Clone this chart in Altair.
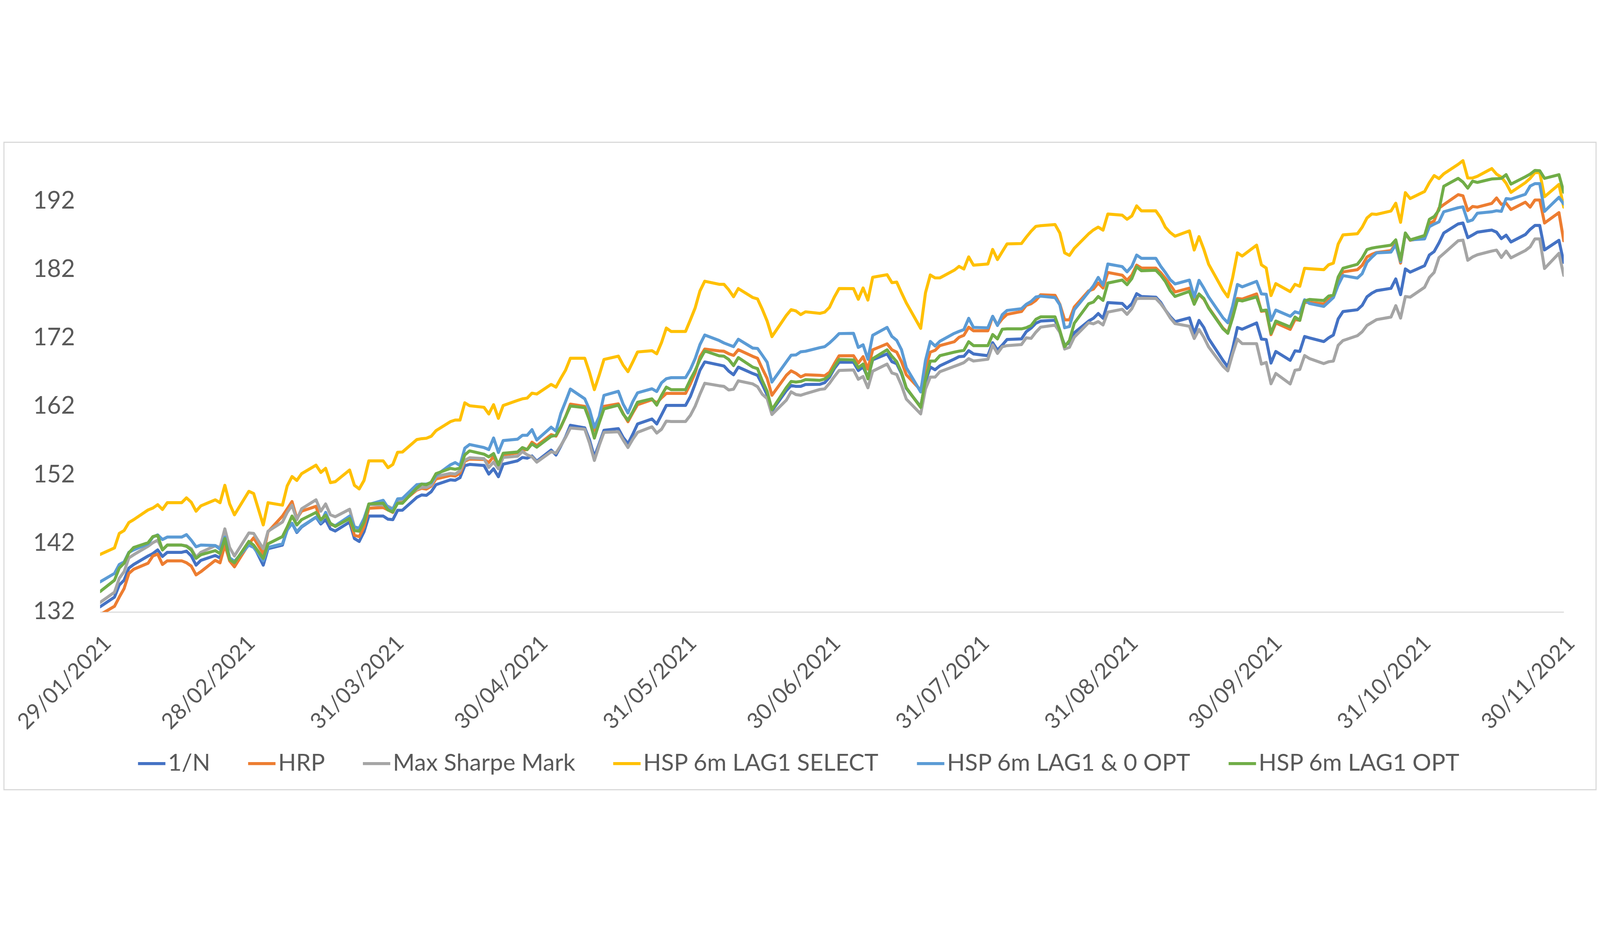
import altair as alt
import pandas as pd

# Business days shown on the chart (month -> days)
MONTH_DAYS = {
    1: [29],
    2: [1, 2, 3, 4, 5, 8, 9, 10, 11, 12, 15, 16, 17, 18, 19, 22, 23, 24, 25, 26],
    3: [1, 2, 4, 5, 8, 9, 10, 11, 12, 15, 16, 17, 18, 19, 22, 23, 24, 25, 26, 29, 30, 31],
    4: [1, 2, 5, 6, 7, 8, 9, 12, 13, 14, 15, 16, 19, 20, 21, 22, 23, 26, 27, 28, 29, 30],
    5: [3, 4, 5, 6, 7, 10, 11, 12, 13, 14, 17, 18, 19, 20, 21, 24, 25, 26, 27, 28, 31],
    6: [1, 2, 3, 4, 7, 8, 9, 10, 11, 14, 15, 16, 17, 18, 21, 22, 23, 24, 25, 28, 29, 30],
    7: [1, 2, 5, 6, 7, 8, 9, 12, 13, 14, 15, 16, 19, 20, 21, 22, 23, 26, 27, 28, 29, 30],
    8: [2, 3, 4, 5, 6, 9, 10, 11, 12, 13, 16, 17, 18, 19, 20, 23, 24, 25, 26, 27, 30, 31],
    9: [1, 2, 3, 6, 7, 8, 9, 10, 13, 14, 15, 16, 17, 20, 21, 22, 23, 24, 27, 28, 29, 30],
    10: [1, 4, 5, 6, 7, 8, 11, 12, 13, 14, 15, 18, 19, 20, 21, 22, 25, 26, 27, 28, 29],
    11: [1, 2, 3, 4, 5, 8, 9, 10, 11, 12, 15, 16, 17, 18, 19, 22, 23, 24, 25, 26, 29, 30],
}
DATES = [f"2021-{m:02d}-{d:02d}T00:00:00" for m, days in MONTH_DAYS.items() for d in days]

SERIES = ["1/N", "HRP", "Max Sharpe Mark", "HSP 6m LAG1 SELECT",
          "HSP 6m LAG1 & 0 OPT", "HSP 6m LAG1 OPT"]
COLORS = ["#4472C4", "#ED7D31", "#A5A5A5", "#FFC000", "#5B9BD5", "#70AD47"]

ONE_OVER_N = [
    132.76,
    134.17, 135.94, 136.64, 138.41, 138.94, 140.18, 140.53, 141.06, 140.11, 140.71, 140.71, 140.89, 140.18, 138.84, 139.54, 140.25, 139.9, 142.12, 139.83, 138.77,
    142.12, 141.67, 138.84, 141.24, 141.77, 144.07, 144.95, 143.61, 144.42, 145.84, 144.85, 145.48, 144.14, 143.82, 145.13, 142.73, 142.3, 143.72, 146.01, 146.01, 145.55, 145.48,
    146.85, 146.87, 148.74, 149.09, 149.03, 149.56, 150.59, 151.3, 151.23, 151.61, 153.36, 153.55, 153.4, 152.14, 152.91, 151.75, 153.59, 154.08, 154.56, 154.46, 154.79, 154.02,
    155.65, 154.92, 156.21, 157.58, 159.27, 158.9, 157.12, 154.65, 156.57, 158.54, 158.78, 157.49, 156.57, 157.95, 159.46, 160.19, 159.46, 160.8, 162.17, 162.17, 162.17,
    163.46, 165.3, 167.3, 168.52, 168.08, 167.93, 167.18, 166.65, 167.76, 166.83, 166.56, 165.22, 163.7, 161.38, 164.33, 165.08, 164.95, 164.95, 165.22, 165.25, 165.49, 166.29,
    167.54, 168.47, 168.47, 167.26, 167.78, 166.22, 168.82, 169.69, 168.56, 168.25, 166.83, 164.66, 161.97, 165.61, 167.78, 167.38, 167.95, 168.94, 169.29, 169.34, 170.16, 169.69,
    169.43, 171.33, 170.25, 170.98, 171.8, 171.88, 172.94, 173.46, 174.17, 174.49, 174.61, 172.86, 170.98, 171.31, 172.78, 174.49, 174.9, 175.59, 174.9, 177.19, 177.06, 176.34,
    177.02, 178.49, 178.08, 177.98, 177.23, 176.09, 175.15, 174.4, 174.96, 172.7, 174.58, 173.55, 171.94, 168.73, 167.79, 170.43, 173.55, 173.3, 174.21, 171.85, 171.79, 168.35,
    170.05, 168.75, 170.14, 170.05, 172.24, 172.03, 171.49, 172.03, 172.45, 174.81, 175.88, 176.14, 176.78, 178.03, 178.56, 178.93, 179.27, 180.64, 178.35, 182.1, 181.63,
    182.57, 184.13, 184.64, 185.9, 187.35, 188.67, 188.81, 186.67, 187.06, 187.47, 187.78, 187.47, 186.53, 187.03, 186.04, 187.12, 187.88, 188.45, 188.45, 184.88, 186.28, 183.06,
]

HRP = [
    131.6,
    132.83, 134.17, 135.41, 137.63, 138.24, 139.12, 140.18, 140.46, 138.94, 139.47, 139.47, 139.19, 138.7, 137.42, 137.88, 139.54, 139.19, 141.77, 139.47, 138.59,
    141.95, 142.83, 140.53, 143.72, 146.01, 147.07, 148.13, 145.66, 146.72, 147.43, 145.13, 146.37, 144.78, 144.6, 145.66, 143.19, 143.01, 144.42, 147.15, 147.25, 146.9, 146.54,
    148.1, 148.1, 149.81, 150.06, 149.95, 150.39, 151.42, 151.94, 151.85, 152.27, 154.02, 154.33, 154.27, 153.82, 154.71, 153.11, 154.95, 155.24, 155.63, 155.72, 156.79, 156.3,
    157.9, 157.68, 158.96, 160.52, 162.36, 162.03, 160.25, 158.5, 159.97, 162.03, 162.4, 160.98, 159.79, 161.07, 162.27, 163.0, 162.54, 163.28, 163.92, 163.92, 163.92,
    165.3, 166.9, 169.28, 170.4, 170.13, 170.08, 169.72, 169.47, 170.31, 169.33, 169.06, 167.54, 166.11, 163.65, 166.56, 167.22, 166.86, 166.33, 166.65, 166.56, 166.5, 167.0,
    168.25, 169.42, 169.43, 168.35, 169.29, 167.48, 170.29, 171.16, 170.29, 169.95, 168.56, 166.65, 164.4, 167.69, 169.95, 170.21, 170.9, 171.47, 172.12, 172.41, 173.59, 173.07,
    173.07, 175.15, 173.92, 174.82, 175.47, 175.88, 176.78, 177.02, 177.51, 178.33, 178.25, 176.94, 174.66, 174.66, 176.53, 178.9, 179.15, 180.04, 179.31, 181.59, 181.19, 180.45,
    181.19, 182.66, 182.24, 182.23, 181.57, 180.72, 179.78, 178.74, 179.3, 177.61, 178.36, 177.7, 176.47, 173.45, 172.79, 175.15, 177.79, 177.7, 178.45, 175.91, 176.0, 172.51,
    174.21, 173.27, 174.7, 174.6, 177.28, 177.21, 177.0, 177.6, 178.03, 180.38, 181.67, 181.99, 182.63, 183.85, 184.24, 184.5, 184.78, 185.78, 182.95, 187.24, 186.28,
    186.7, 188.74, 189.12, 190.98, 191.49, 192.95, 192.78, 190.63, 191.22, 191.13, 191.67, 192.47, 191.53, 191.7, 190.78, 191.85, 191.13, 192.17, 192.17, 188.81, 190.33, 186.22,
]

MAX_SHARPE = [
    133.39,
    134.88, 136.92, 137.88, 139.9, 140.36, 141.6, 142.12, 142.48, 141.06, 141.77, 141.77, 141.67, 141.24, 140.0, 140.71, 141.67, 141.42, 144.14, 141.42, 140.18,
    143.54, 143.47, 141.24, 143.79, 145.13, 146.54, 147.6, 145.48, 147.07, 148.38, 146.72, 147.78, 146.19, 145.91, 147.0, 144.42, 144.14, 145.48, 147.71, 147.6, 147.43, 147.07,
    148.3, 148.4, 149.91, 150.2, 150.2, 150.53, 151.81, 152.23, 152.14, 152.62, 154.17, 154.52, 154.4, 153.11, 153.88, 152.91, 154.56, 154.75, 155.43, 154.95, 154.66, 153.88,
    155.4, 155.2, 156.3, 157.49, 158.87, 158.69, 156.66, 154.13, 156.3, 158.23, 158.32, 157.12, 156.02, 157.22, 158.23, 159.05, 158.13, 158.69, 159.88, 159.82, 159.82,
    160.71, 162.05, 163.81, 165.4, 165.04, 164.95, 164.42, 164.54, 165.76, 165.31, 164.9, 163.79, 163.17, 160.84, 162.93, 164.15, 163.75, 163.65, 163.88, 164.5, 164.59, 165.4,
    166.38, 167.27, 167.35, 165.99, 166.39, 164.74, 167.17, 168.21, 166.91, 166.69, 165.09, 163.1, 160.93, 164.57, 166.3, 166.3, 167.09, 167.87, 168.13, 168.42, 169.0, 168.65,
    168.91, 170.99, 169.76, 170.74, 170.9, 171.06, 172.04, 171.96, 172.86, 173.6, 173.89, 172.86, 170.41, 170.66, 172.13, 174.25, 174.08, 174.41, 173.92, 175.8, 176.21, 175.47,
    176.29, 177.76, 177.82, 177.79, 177.04, 176.09, 174.96, 174.11, 173.73, 171.94, 173.26, 172.13, 170.71, 167.88, 167.22, 169.68, 171.85, 171.19, 171.19, 168.2, 168.45, 165.33,
    166.84, 165.3, 167.31, 167.42, 169.45, 169.02, 168.28, 168.55, 168.64, 170.95, 171.64, 172.35, 172.93, 173.85, 174.28, 174.7, 175.07, 176.74, 174.92, 178.07, 177.98,
    179.42, 180.85, 181.6, 183.74, 184.35, 186.22, 186.31, 183.37, 183.85, 184.17, 184.71, 184.85, 183.78, 184.71, 183.72, 184.79, 185.33, 186.49, 186.49, 182.17, 184.38, 181.17,
]

LAG1_SELECT = [
    140.4,
    141.35, 143.47, 143.89, 145.06, 145.48, 146.9, 147.18, 147.67, 146.97, 147.96, 147.96, 148.67, 148.03, 146.72, 147.5, 148.38, 147.96, 150.5, 147.78, 146.19,
    149.62, 149.3, 144.71, 147.96, 147.6, 150.43, 151.78, 151.21, 152.2, 153.44, 152.38, 152.98, 150.89, 151.03, 152.73, 150.5, 149.97, 151.21, 154.07, 154.07, 153.08, 153.54,
    155.33, 155.36, 157.18, 157.31, 157.37, 157.66, 158.48, 159.8, 160.03, 160.03, 162.55, 162.12, 161.89, 160.92, 162.28, 160.28, 162.16, 162.9, 163.13, 163.23, 163.96, 163.83,
    165.24, 164.84, 166.12, 167.32, 169.06, 169.06, 166.95, 164.47, 166.58, 168.88, 169.37, 168.05, 167.1, 168.51, 169.98, 170.16, 169.71, 171.36, 173.47, 172.97, 172.97,
    174.66, 176.4, 178.88, 180.31, 179.86, 179.86, 179.06, 178.04, 179.24, 177.93, 177.72, 176.2, 174.5, 172.22, 175.31, 176.15, 175.97, 175.43, 175.84, 175.61, 175.79, 176.5,
    177.99, 179.24, 179.23, 177.67, 179.32, 177.55, 180.88, 181.26, 180.1, 180.18, 178.62, 177.15, 173.42, 178.62, 181.22, 180.79, 180.79, 181.92, 182.47, 182.09, 183.86, 182.65,
    182.82, 184.95, 183.47, 184.62, 185.76, 185.81, 186.74, 187.6, 188.32, 188.42, 188.58, 187.34, 184.45, 184.08, 185.11, 187.23, 187.8, 188.21, 187.77, 190.12, 189.95, 189.35,
    189.84, 191.31, 190.58, 190.59, 189.59, 188.18, 187.42, 186.89, 187.65, 184.87, 186.82, 184.97, 182.8, 179.02, 178.02, 180.81, 184.44, 183.99, 185.57, 182.7, 182.23, 178.21,
    179.96, 178.79, 179.85, 179.57, 182.2, 182.14, 181.99, 182.7, 182.95, 185.74, 187.07, 187.24, 188.2, 189.55, 190.13, 190.07, 190.56, 191.7, 188.91, 193.24, 192.38,
    193.41, 194.7, 195.74, 195.29, 195.99, 197.38, 197.92, 195.38, 195.38, 195.63, 196.76, 195.95, 195.51, 194.61, 193.28, 194.7, 195.33, 196.17, 196.17, 192.65, 194.44, 191.13,
]

LAG1_0_OPT = [
    136.4,
    137.63, 138.94, 139.3, 140.71, 141.06, 141.95, 142.94, 143.26, 142.58, 142.94, 142.94, 143.29, 142.48, 141.52, 141.77, 141.7, 141.17, 142.94, 139.9, 139.4,
    141.77, 141.42, 139.47, 141.42, 141.95, 143.96, 144.95, 143.72, 144.49, 145.84, 145.06, 146.54, 144.85, 144.6, 146.01, 144.42, 144.25, 145.66, 147.71, 148.31, 147.25, 146.97,
    148.52, 148.58, 150.59, 150.68, 150.68, 150.88, 151.94, 153.49, 153.82, 153.4, 155.92, 156.46, 156.01, 155.72, 157.41, 155.3, 157.04, 157.24, 157.8, 157.8, 158.63, 157.12,
    158.99, 158.41, 160.98, 162.73, 164.56, 163.13, 161.53, 158.96, 160.52, 163.64, 164.23, 162.36, 161.07, 162.73, 164.01, 164.6, 164.2, 165.48, 166.07, 166.22, 166.22,
    167.41, 169.0, 171.05, 172.45, 171.65, 171.29, 171.02, 170.75, 171.83, 170.54, 170.49, 169.5, 168.47, 165.58, 168.52, 169.5, 169.54, 170.0, 170.08, 170.61, 170.75, 171.29,
    171.95, 172.66, 172.69, 170.64, 171.02, 168.91, 172.41, 173.56, 172.24, 171.68, 170.3, 167.69, 164.14, 168.73, 171.51, 170.85, 171.54, 172.69, 172.98, 173.24, 174.89, 173.56,
    173.5, 175.19, 173.84, 175.42, 176.04, 176.29, 176.94, 177.35, 178.0, 178.13, 177.92, 176.86, 173.51, 173.68, 176.13, 178.74, 179.64, 180.86, 179.72, 182.82, 182.44, 181.68,
    182.49, 184.13, 183.65, 183.65, 182.51, 181.57, 180.53, 179.91, 180.47, 177.98, 180.44, 179.3, 178.02, 174.96, 174.24, 176.66, 179.83, 179.49, 180.29, 178.45, 178.4, 174.58,
    176.09, 175.18, 175.84, 175.63, 177.6, 177.06, 176.63, 177.27, 177.92, 179.74, 181.13, 180.77, 181.41, 183.06, 183.81, 184.45, 184.56, 185.63, 183.17, 187.24, 186.34,
    186.49, 188.27, 188.65, 188.97, 190.45, 191.04, 191.17, 189.03, 189.26, 190.24, 190.45, 190.6, 190.51, 192.38, 192.29, 193.01, 194.2, 194.56, 194.56, 190.51, 192.56, 191.58,
]

LAG1_OPT = [
    134.98,
    136.64, 138.41, 139.12, 140.64, 141.42, 142.12, 143.01, 143.19, 141.06, 141.77, 141.77, 141.6, 141.06, 139.83, 140.36, 140.96, 140.53, 142.73, 139.65, 139.19,
    142.3, 141.77, 139.83, 141.95, 143.01, 144.42, 146.01, 144.71, 145.48, 146.54, 145.48, 146.12, 144.95, 144.49, 145.66, 143.89, 143.79, 145.13, 147.78, 147.89, 146.9, 146.61,
    147.88, 147.88, 150.1, 150.68, 150.59, 150.97, 152.2, 152.97, 152.85, 153.01, 154.95, 155.53, 155.05, 154.66, 155.14, 153.49, 155.18, 155.37, 156.01, 155.72, 156.54, 156.07,
    157.66, 157.8, 159.05, 160.52, 162.08, 161.84, 159.97, 157.4, 159.6, 161.66, 162.21, 160.89, 160.01, 161.26, 162.63, 163.13, 162.21, 163.64, 164.84, 164.47, 164.47,
    165.94, 167.25, 168.85, 170.13, 169.42, 169.36, 168.88, 167.99, 169.15, 167.76, 167.54, 165.76, 164.24, 161.56, 164.77, 165.67, 165.58, 165.67, 165.93, 165.84, 166.02, 166.56,
    167.81, 168.88, 168.82, 167.69, 168.21, 166.05, 168.99, 170.29, 169.34, 168.56, 167.0, 164.74, 161.88, 165.96, 168.65, 168.65, 169.43, 169.95, 170.09, 170.21, 171.47, 170.9,
    170.9, 172.52, 171.88, 173.3, 173.35, 173.35, 173.51, 173.84, 174.74, 175.1, 175.1, 173.11, 170.74, 171.64, 174.17, 177.02, 177.27, 178.08, 177.51, 180.04, 180.48, 179.8,
    180.7, 182.41, 181.83, 181.91, 181.19, 180.25, 178.93, 178.08, 178.83, 176.94, 178.45, 177.79, 176.38, 173.36, 172.7, 174.96, 177.6, 177.42, 178.02, 176.0, 176.09, 172.7,
    174.49, 173.63, 175.07, 174.6, 177.43, 177.64, 177.49, 178.13, 178.28, 180.92, 182.2, 182.78, 183.7, 184.93, 185.14, 185.27, 185.57, 186.34, 183.38, 187.35, 186.34,
    186.98, 189.34, 189.75, 190.7, 194.17, 195.33, 194.79, 193.9, 194.92, 194.74, 195.24, 195.28, 195.33, 195.87, 194.49, 195.56, 195.95, 196.49, 196.45, 195.33, 195.87, 193.31,
]

Y_TICKS = [132, 142, 152, 162, 172, 182, 192]
X_TICKS = [(1, 29), (2, 28), (3, 31), (4, 30), (5, 31), (6, 30), (7, 31), (8, 31), (9, 30), (10, 31), (11, 30)]

VALUES = [ONE_OVER_N, HRP, MAX_SHARPE, LAG1_SELECT, LAG1_0_OPT, LAG1_OPT]
rows = []
for name, vals in zip(SERIES, VALUES):
    assert len(vals) == len(DATES), (name, len(vals), len(DATES))
    for d, v in zip(DATES, vals):
        rows.append({"date": d, "value": v, "series": name})
df = pd.DataFrame(rows)

FONT = "Lato"
TXT = "#595959"
W, H = 5344, 1700
PAD = {"left": 354, "top": 18, "right": 121, "bottom": 652}

lines = alt.Chart(df).mark_line(
    strokeWidth=11, strokeJoin="round", strokeCap="round", clip=True
).encode(
    x=alt.X(
        "date:T",
        scale=alt.Scale(
            domain=[alt.DateTime(year=2021, month=1, date=29),
                    alt.DateTime(year=2021, month=11, date=30)],
            nice=False,
        ),
        axis=alt.Axis(
            values=[alt.DateTime(year=2021, month=m, date=d) for m, d in X_TICKS],
            format="%d/%m/%Y",
            labelAngle=-45,
            labelFont=FONT,
            labelFontSize=80,
            labelColor=TXT,
            labelPadding=74,
            labelLimit=2000,
            labelOverlap=False,
            labelFlush=False,
            labelBound=False,
            grid=False,
            ticks=False,
            tickSize=0,
            domainColor="#D9D9D9",
            domainWidth=4,
            title=None,
        ),
    ),
    y=alt.Y(
        "value:Q",
        scale=alt.Scale(domain=[132, 200], nice=False, zero=False),
        axis=alt.Axis(
            values=Y_TICKS,
            labelFont=FONT,
            labelFontSize=88,
            labelColor=TXT,
            labelPadding=92,
            grid=False,
            domain=False,
            ticks=False,
            tickSize=0,
            title=None,
        ),
    ),
    color=alt.Color(
        "series:N",
        scale=alt.Scale(domain=SERIES, range=COLORS),
        sort=SERIES,
        legend=alt.Legend(
            orient="none",
            legendX=133,
            legendY=2198,
            direction="horizontal",
            columns=6,
            symbolType="stroke",
            symbolSize=10000,
            symbolStrokeWidth=11,
            labelFont=FONT,
            labelFontSize=86,
            labelColor=TXT,
            labelLimit=3000,
            labelOffset=4,
            columnPadding=115,
            padding=0,
            title=None,
        ),
    ),
    order=alt.Order("series:N", sort="ascending"),
)

border = alt.Chart(alt.Data(values=[{}])).mark_rect(
    fill=None, stroke="#D9D9D9", strokeWidth=4
).encode(
    x=alt.value(-PAD["left"] + 3),
    x2=alt.value(W + PAD["right"] - 3),
    y=alt.value(-PAD["top"] + 3),
    y2=alt.value(H + PAD["bottom"] - 3),
)

chart = alt.layer(border, lines).properties(
    width=W,
    height=H,
    padding=PAD,
    autosize=alt.AutoSizeParams(type="none"),
    background="white",
).configure_view(stroke=None)

chart.save("out.html", embed_options={"renderer": "svg", "actions": False})
